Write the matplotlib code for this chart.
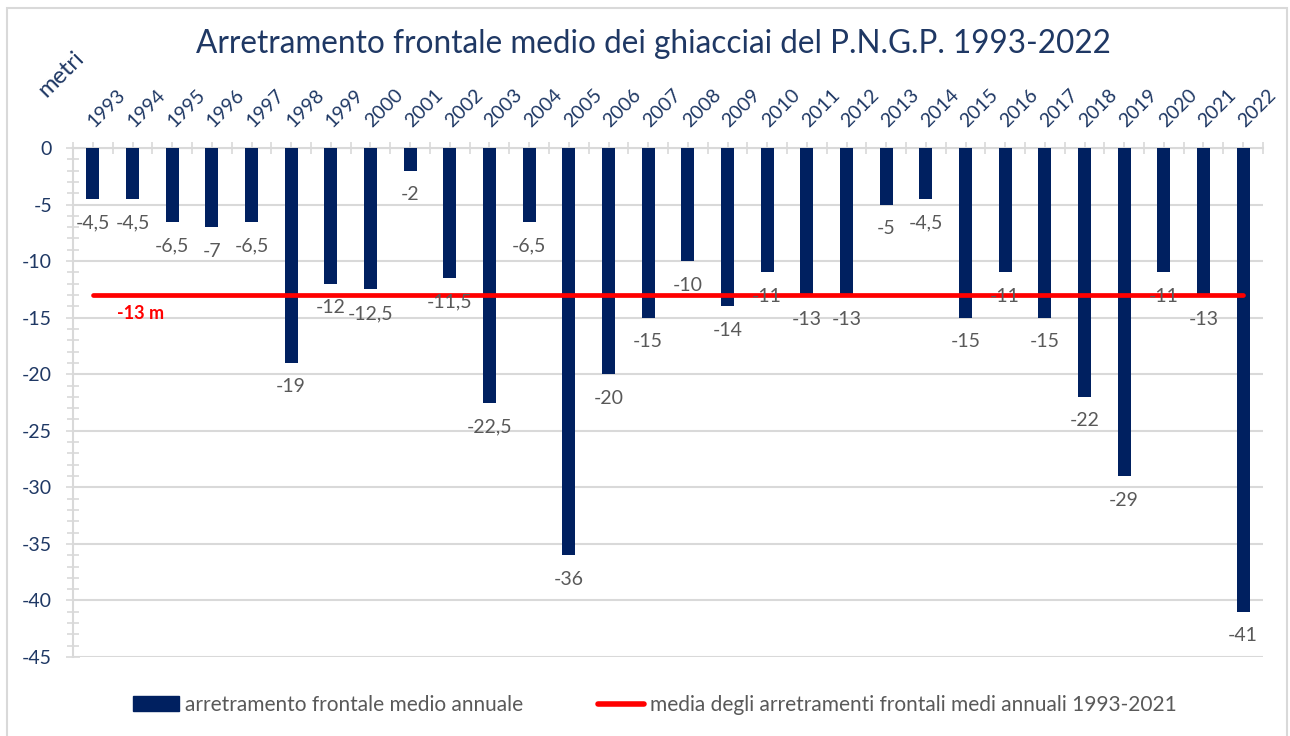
import matplotlib
matplotlib.use("Agg")
import matplotlib.pyplot as plt
from matplotlib.patches import Rectangle, Patch
from matplotlib.lines import Line2D
from matplotlib.ticker import MultipleLocator, FixedLocator
from matplotlib.transforms import ScaledTranslation

plt.rcParams['font.family'] = ['Lato', 'DejaVu Sans']

years = [str(y) for y in range(1993, 2023)]
retreat = [-4.5, -4.5, -6.5, -7, -6.5, -19, -12, -12.5, -2, -11.5,
           -22.5, -6.5, -36, -20, -15, -10, -14, -11, -13, -13,
           -5, -4.5, -15, -11, -15, -22, -29, -11, -13, -41]
mean_value = -13
mean_label = "-13 m"
title = "Arretramento frontale medio dei ghiacciai del P.N.G.P. 1993-2022"
bar_legend = "arretramento frontale medio annuale"
line_legend = "media degli arretramenti frontali medi annuali 1993-2021"
y_label = "metri"

NAVY = "#002060"
TXT_NAVY = "#1F3864"
GRAY_TXT = "#595959"
GRID = "#D9D9D9"

fig = plt.figure(figsize=(12.9, 7.36), dpi=100)
ax = fig.add_axes([73/1290, 1-657/736, (1263-73)/1290, (657-148)/736])

x = list(range(len(years)))
ax.bar(x, retreat, width=0.33, color=NAVY, zorder=3)
ax.plot([x[0], x[-1]], [mean_value, mean_value], color="#FF0000", lw=3.4,
        solid_capstyle='round', zorder=4)

def fmt(v):
    return ("%g" % v).replace(".", ",")

for xi, v in zip(x, retreat):
    ax.annotate(fmt(v), (xi, v), xytext=(0, -24), textcoords='offset pixels',
                ha='center', va='center', fontsize=14, color=GRAY_TXT, zorder=5)

ax.text(1.2, -14.6, mean_label, color="#FF0000", fontsize=13, fontweight='bold',
        ha='center', va='center', zorder=5)

ax.set_xlim(-0.5, len(years) - 0.5)
ax.set_ylim(-45, 0)
ax.yaxis.set_minor_locator(MultipleLocator(1))
ax.set_yticks(range(-45, 1, 5))
ax.set_yticklabels([str(v) for v in range(-45, 1, 5)])
ax.grid(axis='y', color=GRID, lw=1.5, zorder=0)
ax.tick_params(axis='y', which='both', direction='inout', colors=GRID,
               labelcolor=TXT_NAVY, labelsize=14, pad=10)
ax.tick_params(axis='y', which='major', length=10, width=1.2)
ax.tick_params(axis='y', which='minor', length=8, width=1.2)

ax.xaxis.tick_top()
ax.set_xticks(x)
ax.set_xticklabels(years, rotation=45, ha='left', va='bottom',
                   rotation_mode='anchor')
ax.xaxis.set_minor_locator(FixedLocator([i + 0.5 for i in range(-1, len(years))]))
ax.tick_params(axis='x', which='both', top=True, bottom=False, direction='inout',
               colors=GRID, labelcolor=TXT_NAVY, labelsize=14, length=8,
               width=1.2, pad=9)
shift = ScaledTranslation(4/100, 0, fig.dpi_scale_trans)
for lab in ax.get_xticklabels():
    lab.set_transform(lab.get_transform() + shift)

for s in ['right', 'bottom']:
    ax.spines[s].set_visible(False)
ax.spines['top'].set_color(GRID)
ax.spines['top'].set_linewidth(1.5)
ax.spines['left'].set_color(GRID)
ax.spines['left'].set_linewidth(1.5)

fig.text(653/1290, 1-44/736, title, ha='center', va='center', fontsize=22.7,
         color=TXT_NAVY)
fig.text(61/1290, 1-74/736, y_label, ha='center', va='center', rotation=45,
         fontsize=17, color=TXT_NAVY)

handles = [Patch(facecolor=NAVY, edgecolor=NAVY),
           Line2D([0], [0], color="#FF0000", lw=4, solid_capstyle='round')]
leg = fig.legend(handles, [bar_legend, line_legend], loc='center',
                 bbox_to_anchor=(655/1290, 1-705/736), ncol=2, frameon=False,
                 fontsize=15, handlelength=2.2, handleheight=0.7,
                 columnspacing=3.6, handletextpad=0.3, labelcolor=GRAY_TXT)

fig.add_artist(Rectangle((7/1290, -0.01), (1287-7)/1290, 1.01-8/736,
                         transform=fig.transFigure, fill=False,
                         edgecolor=GRID, lw=1.5))

fig.savefig("out.png", dpi=100, facecolor="white")
